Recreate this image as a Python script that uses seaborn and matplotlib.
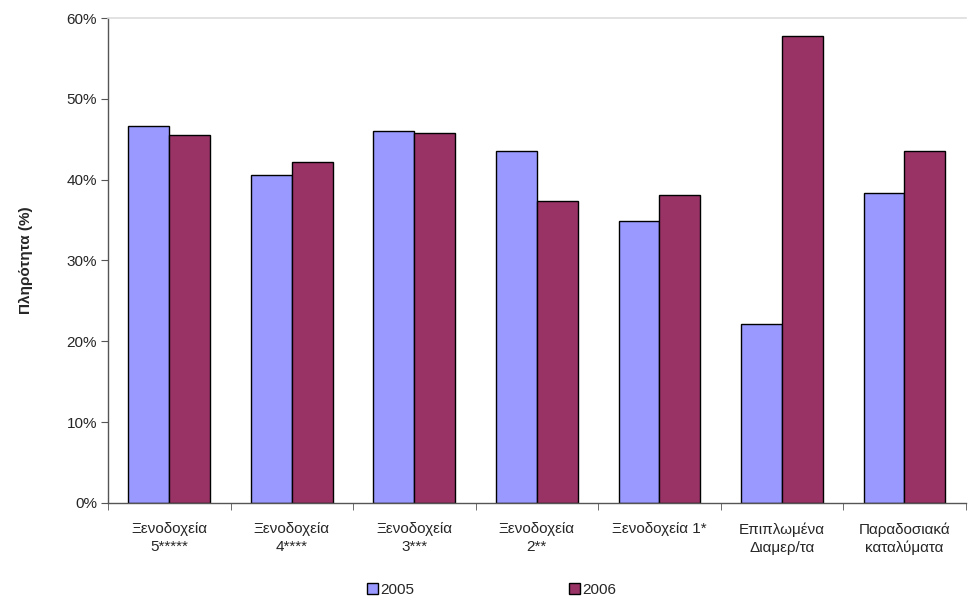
import pandas as pd
import matplotlib.pyplot as plt
import seaborn as sns
from matplotlib.ticker import PercentFormatter, FixedLocator

categories = ["Ξενοδοχεία\n5*****", "Ξενοδοχεία\n4****", "Ξενοδοχεία\n3***",
              "Ξενοδοχεία\n2**", "Ξενοδοχεία 1*", "Επιπλωμένα\nΔιαμερ/τα",
              "Παραδοσιακά\nκαταλύματα"]
years = ["2005", "2006"]
occ_2005 = [46.7, 40.6, 46.0, 43.5, 34.9, 22.2, 38.4]
occ_2006 = [45.5, 42.2, 45.8, 37.3, 38.1, 57.8, 43.6]

df = pd.DataFrame({
    "cat": categories * 2,
    "year": [years[0]] * len(categories) + [years[1]] * len(categories),
    "val": occ_2005 + occ_2006,
})

sns.set_style("white")
plt.rcParams['font.family'] = ['Liberation Sans', 'DejaVu Sans']

fig = plt.figure(figsize=(9.68, 6), dpi=100)
ax = fig.add_axes([0.1116, 0.1617, 0.886, 0.8083])

sns.barplot(data=df, x="cat", y="val", hue="year", order=categories,
            hue_order=years, palette=["#9999FF", "#993366"], saturation=1,
            width=0.667, gap=0, edgecolor="black", linewidth=1.0,
            errorbar=None, ax=ax)

ax.set_ylim(0, 60)
ax.set_xlim(-0.5, len(categories) - 0.5)
ax.yaxis.set_major_formatter(PercentFormatter(decimals=0))
ax.set_yticks(range(0, 61, 10))
ax.tick_params(axis="y", labelsize=11, length=5, direction="out", left=True,
               color="#555555", pad=3)

ax.xaxis.set_minor_locator(FixedLocator([i - 0.5 for i in range(len(categories) + 1)]))
ax.tick_params(axis="x", which="major", length=0, labelsize=11, pad=14)
ax.tick_params(axis="x", which="minor", length=5, direction="out", bottom=True,
               color="#555555")
for lbl in ax.get_xticklabels():
    lbl.set_linespacing(1.35)

ax.set_xlabel("")
ax.set_ylabel("Πληρότητα (%)", fontsize=11, fontweight="bold", labelpad=24)

for s in ["left", "bottom"]:
    ax.spines[s].set_color("#555555")
    ax.spines[s].set_linewidth(1.0)
ax.spines["top"].set_color("#DDDDDD")
ax.spines["top"].set_linewidth(1.2)
ax.spines["right"].set_visible(False)

leg = ax.legend(loc="center", ncol=2, frameon=False, fontsize=11,
                handlelength=0.7, handleheight=0.7,
                handletextpad=0.2, columnspacing=10.1)
leg.set_bbox_to_anchor((0.508, 1 - 590 / 600), transform=fig.transFigure)

fig.savefig("out.png", dpi=100)
